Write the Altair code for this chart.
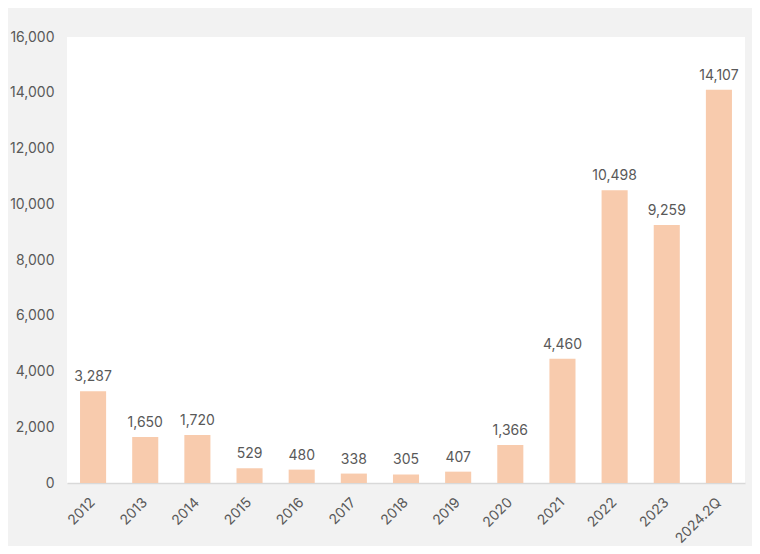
import altair as alt
import pandas as pd

years = ["2012", "2013", "2014", "2015", "2016", "2017", "2018", "2019",
         "2020", "2021", "2022", "2023", "2024.2Q"]
values = [3287, 1650, 1720, 529, 480, 338, 305, 407, 1366, 4460, 10498, 9259, 14107]

df = pd.DataFrame({"year": years, "value": values})

FONT = "Inter"
TXT = "#595959"

x = alt.X("year:N", sort=years, title=None,
          scale=alt.Scale(paddingInner=0.5, paddingOuter=0.25),
          axis=alt.Axis(labelAngle=-45, labelAlign="right", labelBaseline="middle",
                        labelPadding=17, ticks=False, domain=True,
                        domainColor="#d9d9d9", domainWidth=1.5,
                        labelColor=TXT, labelFont=FONT, labelFontSize=14))
y = alt.Y("value:Q", title=None,
          scale=alt.Scale(domain=[0, 16000], nice=False),
          axis=alt.Axis(values=list(range(0, 16001, 2000)), format=",.0f", grid=False,
                        ticks=False, domain=False, labelPadding=13,
                        labelColor=TXT, labelFont=FONT, labelFontSize=14))

base = alt.Chart(df).encode(x=x, y=y)
bars = base.mark_bar(color="#f8cbad")
labels = base.mark_text(dy=-10, baseline="alphabetic", font=FONT,
                        fontSize=14, color=TXT).encode(
    text=alt.Text("value:Q", format=","))

chart = (bars + labels).properties(
    width=678, height=446,
    autosize=alt.AutoSizeParams(type="none"),
    padding={"left": 59, "top": 29, "right": 7, "bottom": 63},
    background="#f2f2f2",
).configure_view(fill="white", stroke=None)

chart.save("out.html", embed_options={"renderer": "svg", "actions": False})
